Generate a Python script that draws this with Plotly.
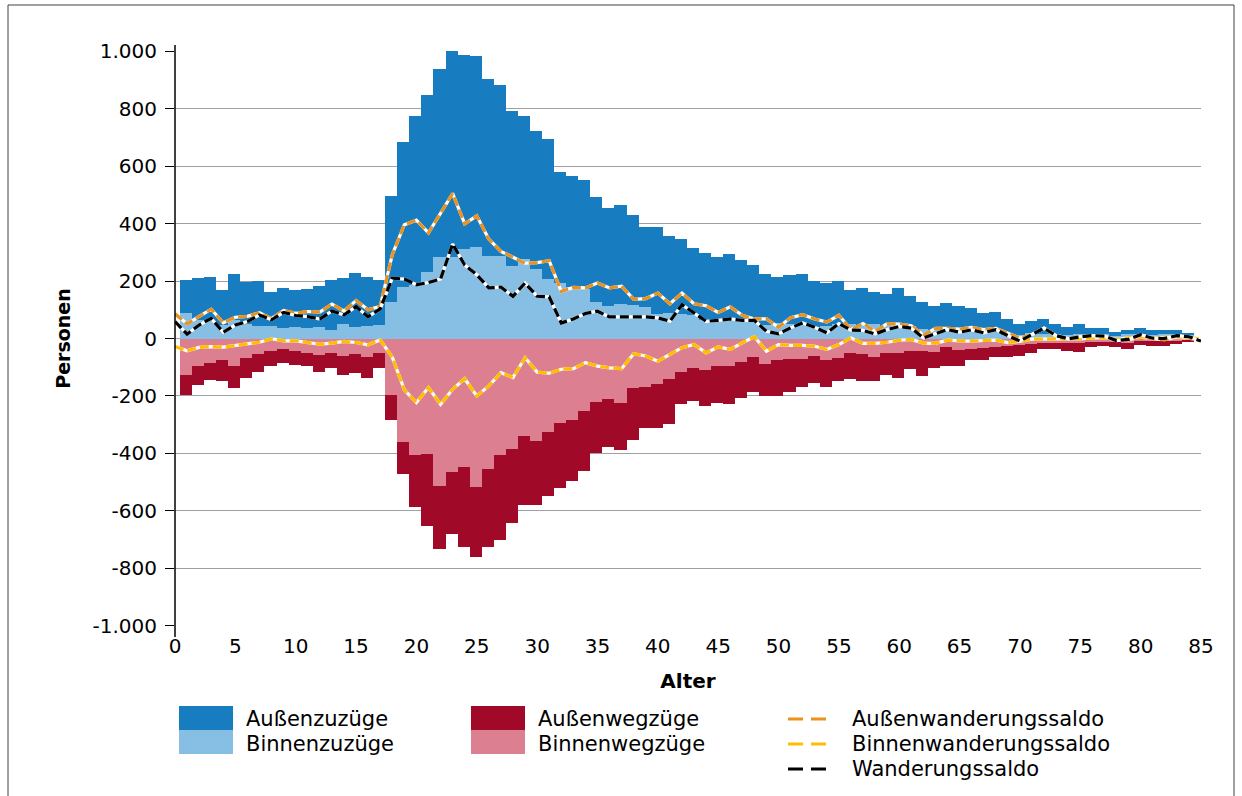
import plotly.graph_objects as go

# ---------------- data ----------------
ages_bar = list(range(1, 85))      # bars (ages 1..84)
ages_line = list(range(0, 86))     # saldo lines (ages 0..85)

aussen_zu = [115, 143, 153, 123, 159, 145, 156, 121, 142, 129, 136, 144, 172, 157, 189, 170, 157,
             371, 504, 587, 619, 654, 728, 676, 665, 617, 596, 540, 500, 482, 486, 386, 386, 379,
             365, 342, 345, 314, 278, 304, 269, 261, 232, 234, 215, 233, 208, 190, 177, 160, 172,
             175, 161, 152, 152, 120, 135, 113, 114, 131, 107, 96, 83, 100, 81, 80, 63, 70, 57,
             39, 44, 55, 36, 28, 37, 24, 21, 14, 15, 21, 19, 14, 17, 9]
binnen_zu = [88, 66, 62, 46, 66, 50, 44, 42, 35, 40, 36, 40, 31, 52, 40, 43, 46,
             126, 179, 186, 230, 285, 285, 312, 320, 288, 288, 251, 276, 242, 207, 193, 180, 172,
             128, 112, 121, 117, 110, 84, 88, 86, 83, 64, 69, 62, 66, 66, 48, 55, 50,
             50, 40, 42, 49, 50, 42, 50, 42, 46, 42, 32, 31, 25, 33, 26, 26, 24, 12,
             12, 18, 14, 15, 13, 14, 14, 14, 9, 16, 16, 12, 14, 14, 11]
aussen_weg = [-70, -69, -59, -73, -78, -70, -64, -54, -49, -47, -45, -58, -55, -66, -64, -71, -55,
              -85, -113, -180, -252, -222, -216, -280, -246, -273, -298, -259, -241, -221, -221,
              -227, -211, -210, -176, -166, -162, -180, -141, -152, -155, -112, -113, -124, -129,
              -132, -126, -120, -110, -124, -113, -97, -94, -94, -80, -93, -94, -83, -76, -87,
              -62, -87, -56, -63, -55, -41, -43, -35, -40, -39, -31, -20, -23, -28, -32, -17,
              -15, -18, -22, -14, -17, -17, -10, -7]
binnen_weg = [-128, -94, -87, -76, -94, -69, -53, -42, -38, -45, -49, -59, -49, -62, -55, -66, -49,
              -198, -360, -405, -402, -512, -466, -447, -516, -454, -405, -385, -340, -357, -326,
              -295, -284, -253, -222, -211, -225, -173, -170, -159, -142, -117, -104, -111, -97,
              -97, -82, -66, -90, -76, -73, -73, -62, -76, -69, -49, -55, -66, -52, -52,
              -45, -45, -48, -31, -41, -35, -33, -30, -25, -22, -20, -15, -15, -14, -15, -12,
              -12, -12, -14, -10, -10, -10, -8, -6]

saldo_aussen = [86, 51, 77, 102, 55, 74, 77, 90, 69, 98, 88, 94, 92, 120, 96, 132, 100, 112,
                292, 396, 412, 368, 436, 505, 399, 427, 346, 303, 283, 262, 264, 271, 164, 178,
                176, 193, 176, 182, 136, 139, 158, 121, 158, 121, 114, 91, 110, 81, 68, 68, 39,
                72, 83, 68, 57, 81, 31, 52, 25, 52, 50, 44, 12, 35, 35, 33, 39, 31, 35, 17, 2,
                14, 36, 8, 0, 7, 8, 6, -4, -5, 5, -1, -4, 4, 1, -6]
saldo_binnen = [-28, -43, -31, -28, -30, -25, -20, -13, -1, -8, -8, -14, -20, -16, -10, -14, -22, -5,
                -65, -179, -223, -171, -229, -177, -140, -200, -165, -119, -136, -67, -117, -121,
                -107, -105, -84, -96, -102, -105, -53, -61, -79, -55, -32, -21, -50, -29, -38, -15,
                6, -44, -21, -24, -24, -27, -38, -21, 2, -17, -17, -13, -6, -3, -16, -17, -6, -8,
                -9, -7, -6, -14, -10, -2, -1, 0, -1, -1, 2, 2, -3, 2, 6, 2, 4, 6, 5, -3]
saldo_gesamt = [59, 15, 47, 70, 22, 47, 59, 82, 65, 91, 80, 76, 68, 96, 82, 111, 76, 103,
                210, 207, 187, 195, 207, 329, 256, 222, 176, 179, 147, 193, 147, 145, 54, 68,
                87, 95, 75, 75, 75, 75, 72, 60, 118, 89, 60, 63, 68, 63, 63, 25, 16, 37, 54, 39,
                20, 52, 29, 28, 16, 31, 42, 36, 2, 17, 31, 22, 30, 20, 31, 10, -9, 14, 36, 10,
                -1, 6, 10, 8, -7, -3, 13, 1, 0, 10, 6, -9]

y_tickvals = [1000, 800, 600, 400, 200, 0, -200, -400, -600, -800, -1000]
y_ticktext = ["1.000", "800", "600", "400", "200", "0", "-200", "-400", "-600", "-800", "-1.000"]
x_tickvals = list(range(0, 86, 5))
x_ticktext = [str(v) for v in x_tickvals]

names_bar = ["Außenzuzüge", "Binnenzuzüge", "Außenwegzüge", "Binnenwegzüge"]
names_line = ["Außenwanderungssaldo", "Binnenwanderungssaldo", "Wanderungssaldo"]

# ---------------- styles ----------------
C_AZ = "#177cc0"
C_BZ = "#87bee4"
C_AW = "#a00a28"
C_BW = "#dc8091"
C_SA = "#eb911e"
C_SB = "#ffbe00"
C_SG = "#000000"
GRID = "#a0a0a0"
TICKFONT = "DejaVu Sans, Verdana, sans-serif"
LEGFONT = "DejaVu Sans, Verdana, sans-serif"

W, H = 1242, 796
PL, PR, PT, PB = 175, 1201, 51, 626   # plot area in pixels

fig = go.Figure()

bar_common = dict(width=1, offset=-0.59, marker_line_width=0, showlegend=False)
fig.add_trace(go.Bar(x=ages_bar, y=binnen_zu, name=names_bar[1], marker_color=C_BZ, **bar_common))
fig.add_trace(go.Bar(x=ages_bar, y=aussen_zu, name=names_bar[0], marker_color=C_AZ, **bar_common))
fig.add_trace(go.Bar(x=ages_bar, y=binnen_weg, name=names_bar[3], marker_color=C_BW, **bar_common))
fig.add_trace(go.Bar(x=ages_bar, y=aussen_weg, name=names_bar[2], marker_color=C_AW, **bar_common))

for vals, col, nm in [(saldo_aussen, C_SA, names_line[0]),
                      (saldo_binnen, C_SB, names_line[1]),
                      (saldo_gesamt, C_SG, names_line[2])]:
    fig.add_trace(go.Scatter(x=ages_line, y=vals, mode="lines", showlegend=False,
                             line=dict(color="white", width=3.2), hoverinfo="skip"))
    fig.add_trace(go.Scatter(x=ages_line, y=vals, mode="lines", name=nm, showlegend=False,
                             line=dict(color=col, width=3.2, dash="9px,4px")))


def px(x):
    return (x - PL) / (PR - PL)


def py(y):
    return (PB - y) / (PB - PT)


shapes = []
annotations = []

# outer frame
shapes.append(dict(type="rect", xref="paper", yref="paper", x0=px(8), x1=px(1234), y0=py(5), y1=py(802),
                   line=dict(color="#404040", width=1), fillcolor="rgba(0,0,0,0)", layer="above"))
# y-axis line (extends slightly beyond the value range, as in the original)
shapes.append(dict(type="line", xref="paper", yref="paper", x0=0, x1=0, y0=py(45), y1=py(637),
                   line=dict(color="black", width=1.5), layer="above"))

# legend: bar swatches
ROWS = [719, 744, 769]
for (x0, x1, ctop, cbot, ntop, nbot) in [(179, 233, C_AZ, C_BZ, names_bar[0], names_bar[1]),
                                         (471, 525, C_AW, C_BW, names_bar[2], names_bar[3])]:
    shapes.append(dict(type="rect", xref="paper", yref="paper", x0=px(x0), x1=px(x1),
                       y0=py(706), y1=py(730), fillcolor=ctop, line_width=0, layer="above"))
    shapes.append(dict(type="rect", xref="paper", yref="paper", x0=px(x0), x1=px(x1),
                       y0=py(730), y1=py(754), fillcolor=cbot, line_width=0, layer="above"))
    for txt, yc in [(ntop, ROWS[0]), (nbot, ROWS[1])]:
        annotations.append(dict(xref="paper", yref="paper", x=px(x1 + 11), y=py(yc), text=txt,
                                showarrow=False, xanchor="left", yanchor="middle",
                                font=dict(family=LEGFONT, size=21, color="black")))

# legend: line samples
for col, nm, yc in [(C_SA, names_line[0], ROWS[0]), (C_SB, names_line[1], ROWS[1]),
                    (C_SG, names_line[2], ROWS[2])]:
    shapes.append(dict(type="line", xref="paper", yref="paper", x0=px(788), x1=px(826),
                       y0=py(yc), y1=py(yc), line=dict(color=col, width=3, dash="15px,8px"), layer="above"))
    annotations.append(dict(xref="paper", yref="paper", x=px(850), y=py(yc), text=nm,
                            showarrow=False, xanchor="left", yanchor="middle",
                            font=dict(family=LEGFONT, size=21, color="black")))

fig.update_layout(
    width=W, height=H, autosize=False,
    margin=dict(l=PL, r=W - PR, t=PT, b=H - PB, pad=0),
    paper_bgcolor="white", plot_bgcolor="white",
    barmode="relative", bargap=0,
    separators=",.",
    shapes=shapes, annotations=annotations,
    showlegend=False,
    xaxis=dict(range=[0, 85], tickvals=x_tickvals, ticktext=x_ticktext, showgrid=False,
               zeroline=False, showline=False, ticks="", ticklabelstandoff=6,
               tickfont=dict(family=TICKFONT, size=20, color="black"),
               title=dict(text="<b>Alter</b>", standoff=16,
                          font=dict(family=TICKFONT, size=20, color="black"))),
    yaxis=dict(range=[-1001, 1001], tickvals=y_tickvals, ticktext=y_ticktext,
               showgrid=True, gridcolor=GRID, gridwidth=1.3, zeroline=False,
               showline=False,
               ticks="outside", ticklen=9, tickcolor="black", tickwidth=1.3,
               ticklabelstandoff=4,
               tickfont=dict(family=TICKFONT, size=20, color="black"),
               title=dict(text="<b>Personen</b>", standoff=16,
                          font=dict(family=TICKFONT, size=19, color="black"))),
)

fig.write_html("out.html", config={"displayModeBar": False},
               post_script="document.body.style.margin='0';")
